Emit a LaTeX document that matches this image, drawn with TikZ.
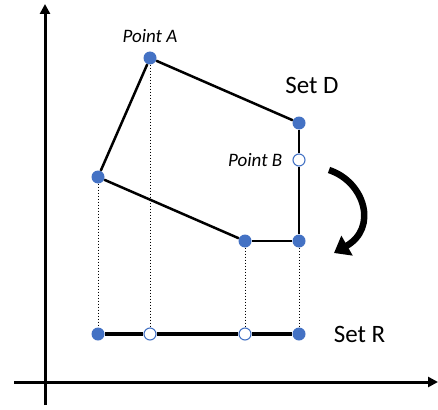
\documentclass[tikz,border=0pt]{standalone}
\usepackage{fontspec}
\setmainfont{Carlito}
\usetikzlibrary{arrows.meta,positioning}
\definecolor{ptBlue}{RGB}{68,114,196}
\tikzset{
  fullpt/.style={circle, fill=ptBlue, inner sep=0pt, minimum size=13pt},
  openpt/.style={circle, draw=ptBlue, fill=white, line width=1.1pt, inner sep=0pt, minimum size=12pt},
  edgeline/.style={line width=2.5pt},
  projline/.style={line width=0.8pt, dash pattern=on 1.6pt off 1.4pt},
  setlabel/.style={font=\fontsize{25}{30}\selectfont, inner sep=0pt},
  ptlabel/.style={font=\fontsize{19}{23}\selectfont\itshape, inner sep=0pt},
}

\begin{document}
\begin{tikzpicture}[x=1pt, y=-1pt]
\useasboundingbox (0,0) rectangle (438,409);
% axes
\coordinate (yBot) at (45,405);
\coordinate (yTop) at (45,4);
\coordinate (xLeft) at (14,382);
\coordinate (xRight) at (438,382);
\draw[line width=3pt, -{Triangle[length=10pt,width=10pt]}] (yBot) -- (yTop);
\draw[line width=3pt, -{Triangle[length=10pt,width=10pt]}] (xLeft) -- (xRight);
% set D
\node[fullpt] (dA) at (150,58) {};
\node[fullpt] (dL) at (98,177) {};
\node[fullpt] (dTR) at (299,123) {};
\node[openpt] (dB) at (299,160) {};
\node[fullpt] (dBR) at (299,241) {};
\node[fullpt] (dBM) at (245,241) {};
\draw[edgeline] (dA) -- (dTR);
\draw[edgeline] (dTR) -- (dB);
\draw[edgeline] (dB) -- (dBR);
\draw[edgeline] (dBR) -- (dBM);
\draw[edgeline] (dBM) -- (dL);
\draw[edgeline] (dL) -- (dA);
% set R
\foreach \n/\x/\s in {R1/98/fullpt, R2/150/openpt, R3/245/openpt, R4/299/fullpt}
  \node[\s] (\n) at (\x,334) {};
\draw[line width=3.2pt] (R1) -- (R2);
\draw[line width=3.2pt] (R2) -- (R3);
\draw[line width=3.2pt] (R3) -- (R4);
% projections
\foreach \a/\b in {dL/R1, dA/R2, dBM/R3, dBR/R4}
  \draw[projline] (\a) -- (\b);
% labels
\node[ptlabel, above=8pt of dA] (labA) {Point A};
\node[ptlabel, left=10pt of dB] (labB) {Point B};
\node[setlabel] (labD) at (312,85) {Set D};
\node[setlabel, right=28pt of R4] (labR) {Set R};
% rotation arrow
\coordinate (rotStart) at (329,170);
\coordinate (rotEnd) at (334,253);
\draw[line width=6.5pt, -{Triangle[length=15pt,width=22pt]}] (rotStart)
  .. controls (365,182) and (378,228) .. (rotEnd);
\end{tikzpicture}
\end{document}
